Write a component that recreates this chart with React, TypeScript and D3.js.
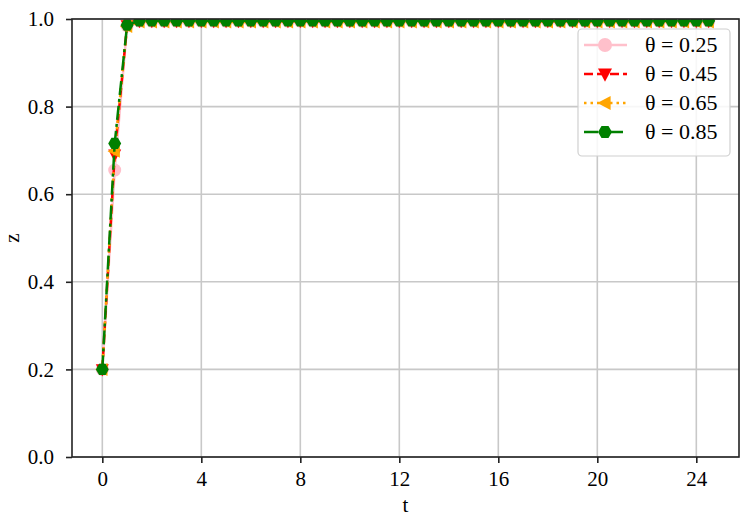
import React, { useEffect, useRef } from "react";
import * as d3 from "d3";

// time steps
const tValues = [
  0, 0.5, 1, 1.5, 2, 2.5, 3, 3.5, 4, 4.5, 5, 5.5, 6, 6.5, 7, 7.5, 8, 8.5, 9, 9.5,
  10, 10.5, 11, 11.5, 12, 12.5, 13, 13.5, 14, 14.5, 15, 15.5, 16, 16.5, 17, 17.5,
  18, 18.5, 19, 19.5, 20, 20.5, 21, 21.5, 22, 22.5, 23, 23.5, 24, 24.5,
];

// z for each theta
const z025 = [
  0.2, 0.655, 0.984, 0.995, 0.995, 0.995, 0.995, 0.995, 0.995, 0.995, 0.995, 0.995, 0.995,
  0.995, 0.995, 0.995, 0.995, 0.995, 0.995, 0.995, 0.995, 0.995, 0.995, 0.995, 0.995,
  0.995, 0.995, 0.995, 0.995, 0.995, 0.995, 0.995, 0.995, 0.995, 0.995, 0.995, 0.995,
  0.995, 0.995, 0.995, 0.995, 0.995, 0.995, 0.995, 0.995, 0.995, 0.995, 0.995, 0.995, 0.995,
];
const z045 = [
  0.2, 0.69, 0.985, 0.995, 0.995, 0.995, 0.995, 0.995, 0.995, 0.995, 0.995, 0.995, 0.995,
  0.995, 0.995, 0.995, 0.995, 0.995, 0.995, 0.995, 0.995, 0.995, 0.995, 0.995, 0.995,
  0.995, 0.995, 0.995, 0.995, 0.995, 0.995, 0.995, 0.995, 0.995, 0.995, 0.995, 0.995,
  0.995, 0.995, 0.995, 0.995, 0.995, 0.995, 0.995, 0.995, 0.995, 0.995, 0.995, 0.995, 0.995,
];
const z065 = [
  0.2, 0.698, 0.983, 0.993, 0.993, 0.993, 0.993, 0.993, 0.993, 0.993, 0.993, 0.993, 0.993,
  0.993, 0.993, 0.993, 0.993, 0.993, 0.993, 0.993, 0.993, 0.993, 0.993, 0.993, 0.993,
  0.993, 0.993, 0.993, 0.993, 0.993, 0.993, 0.993, 0.993, 0.993, 0.993, 0.993, 0.993,
  0.993, 0.993, 0.993, 0.993, 0.993, 0.993, 0.993, 0.993, 0.993, 0.993, 0.993, 0.993, 0.993,
];
const z085 = [
  0.2, 0.716, 0.986, 0.996, 0.996, 0.996, 0.996, 0.996, 0.996, 0.996, 0.996, 0.996, 0.996,
  0.996, 0.996, 0.996, 0.996, 0.996, 0.996, 0.996, 0.996, 0.996, 0.996, 0.996, 0.996,
  0.996, 0.996, 0.996, 0.996, 0.996, 0.996, 0.996, 0.996, 0.996, 0.996, 0.996, 0.996,
  0.996, 0.996, 0.996, 0.996, 0.996, 0.996, 0.996, 0.996, 0.996, 0.996, 0.996, 0.996, 0.996,
];

const seriesLabels = ["θ = 0.25", "θ = 0.45", "θ = 0.65", "θ = 0.85"];
const xTicks = [0, 4, 8, 12, 16, 20, 24];
const yTicks = [0.0, 0.2, 0.4, 0.6, 0.8, 1.0];

const W = 746;
const H = 516;
const FONT = "'Liberation Serif', 'DejaVu Serif', serif";

const styles = [
  { color: "pink", dash: null, marker: "circle" },
  { color: "red", dash: "9,4", marker: "down" },
  { color: "orange", dash: "2.5,4", marker: "left" },
  { color: "green", dash: "14,4,3,4", marker: "hex" },
];

function markerPath(kind: string, r: number) {
  if (kind === "circle") return d3.symbol(d3.symbolCircle, Math.PI * r * r)() as string;
  let pts: [number, number][] = [];
  if (kind === "down") pts = [[-r, -r * 0.8], [r, -r * 0.8], [0, r * 1.1]];
  if (kind === "left") pts = [[r * 0.8, -r], [r * 0.8, r], [-r * 1.1, 0]];
  if (kind === "hex") {
    for (let i = 0; i < 6; i++) {
      const a = Math.PI / 6 + (i * Math.PI) / 3 + Math.PI / 2;
      pts.push([r * Math.cos(a), r * Math.sin(a)]);
    }
  }
  return "M" + pts.map((p) => p.join(",")).join("L") + "Z";
}

export default function App() {
  const ref = useRef<SVGSVGElement>(null);

  useEffect(() => {
    const svg = d3.select(ref.current);
    svg.selectAll("*").remove();

    const left = 72, right = 739, top = 19, bottom = 457;
    const x = d3.scaleLinear().domain([-1.225, 25.725]).range([left, right]);
    const y = d3.scaleLinear().domain([0, 1]).range([bottom, top]);

    svg.append("rect").attr("width", W).attr("height", H).attr("fill", "white");

    svg.append("clipPath").attr("id", "plotclip")
      .append("rect").attr("x", left).attr("y", top)
      .attr("width", right - left).attr("height", bottom - top);

    // grid
    const grid = svg.append("g").attr("stroke", "#c8c8c8").attr("stroke-width", 1.6);
    xTicks.forEach((t) => {
      grid.append("line").attr("x1", x(t)).attr("x2", x(t)).attr("y1", top).attr("y2", bottom);
    });
    yTicks.forEach((t) => {
      grid.append("line").attr("y1", y(t)).attr("y2", y(t)).attr("x1", left).attr("x2", right);
    });

    // series
    const allZ = [z025, z045, z065, z085];
    const plot = svg.append("g").attr("clip-path", "url(#plotclip)");
    allZ.forEach((zs, i) => {
      const st = styles[i];
      const pts = tValues.map((t, j) => [t, zs[j]] as [number, number]);
      const line = d3.line<[number, number]>().x((d) => x(d[0])).y((d) => y(d[1]));
      plot.append("path").attr("d", line(pts)).attr("fill", "none")
        .attr("stroke", st.color).attr("stroke-width", 2.5)
        .attr("stroke-dasharray", st.dash);
      plot.selectAll(null).data(pts).enter().append("path")
        .attr("d", markerPath(st.marker, 6.5))
        .attr("transform", (d) => `translate(${x(d[0])},${y(d[1])})`)
        .attr("fill", st.color);
    });

    // spines
    svg.append("rect").attr("x", left).attr("y", top)
      .attr("width", right - left).attr("height", bottom - top)
      .attr("fill", "none").attr("stroke", "#222").attr("stroke-width", 1.6);

    // x axis
    const xAxis = d3.axisBottom(x).tickValues(xTicks).tickSize(6).tickPadding(8)
      .tickFormat(d3.format("d"));
    const gX = svg.append("g").attr("transform", `translate(0,${bottom})`).call(xAxis);
    gX.select(".domain").remove();
    gX.selectAll("line").attr("stroke", "#222").attr("stroke-width", 1.6);
    gX.selectAll("text").attr("font-family", FONT).attr("font-size", 21).attr("fill", "#000");

    const yAxis = d3.axisLeft(y).tickValues(yTicks).tickSize(6).tickPadding(12)
      .tickFormat(d3.format(".1f"));
    const gY = svg.append("g").attr("transform", `translate(${left},0)`).call(yAxis);
    gY.select(".domain").remove();
    gY.selectAll("line").attr("stroke", "#222").attr("stroke-width", 1.6);
    gY.selectAll("text").attr("font-family", FONT).attr("font-size", 21).attr("fill", "#000");

    // axis labels
    svg.append("text").attr("x", (left + right) / 2).attr("y", 512)
      .attr("text-anchor", "middle").attr("font-family", FONT).attr("font-size", 21).text("t");
    svg.append("text").attr("transform", `translate(19,${(top + bottom) / 2}) rotate(-90)`)
      .attr("text-anchor", "middle").attr("font-family", FONT).attr("font-size", 21).text("z");

    // legend
    const lg = svg.append("g");
    lg.append("rect").attr("x", 578).attr("y", 29).attr("width", 152).attr("height", 127)
      .attr("rx", 4).attr("fill", "white").attr("fill-opacity", 0.85)
      .attr("stroke", "#d0d0d0").attr("stroke-width", 1.2);
    seriesLabels.forEach((lab, i) => {
      const st = styles[i];
      const cy = 45 + i * 29;
      lg.append("line").attr("x1", 584).attr("x2", 627).attr("y1", cy).attr("y2", cy)
        .attr("stroke", st.color).attr("stroke-width", 2.5).attr("stroke-dasharray", st.dash);
      lg.append("path").attr("d", markerPath(st.marker, 7))
        .attr("transform", `translate(605,${cy})`).attr("fill", st.color);
      lg.append("text").attr("x", 645).attr("y", cy + 7).attr("font-family", FONT)
        .attr("font-size", 22).text(lab);
    });
  }, []);

  return (
    <svg ref={ref} width={W} height={H}
      style={{ position: "absolute", left: 0, top: 0, display: "block" }} />
  );
}
